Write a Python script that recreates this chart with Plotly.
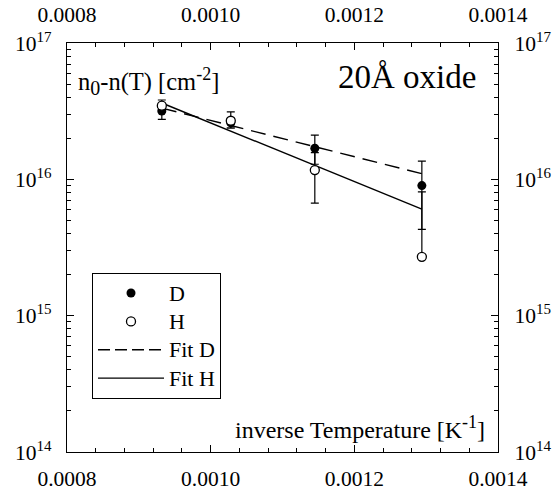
import plotly.graph_objects as go

# Data (x = inverse temperature, y = n0 - n(T))
x_vals = [0.000932, 0.001028, 0.001145, 0.001294]
d_vals = [3.17e16, 2.6e16, 1.69e16, 9.0e15]
d_err_plus = [0.35e16, 0.2e16, 0.42e16, 0.46e16]
d_err_minus = [0.42e16, 0.22e16, 0.4e16, 0.47e16]
h_vals = [3.47e16, 2.69e16, 1.17e16, 2.7e15]
h_err_plus = [0.35e16, 0.43e16, 0.4e16, 5.4e15]
h_err_minus = [0.3e16, 0.31e16, 0.5e16, 0.0]
fit_x = [0.000932, 0.001294]
fit_d = [3.33e16, 1.1e16]
fit_h = [3.63e16, 6.05e15]

x_ticks = [0.0008, 0.0010, 0.0012, 0.0014]
x_ticktext = ["0.0008", "0.0010", "0.0012", "0.0014"]
y_ticks = [1e14, 1e15, 1e16, 1e17]
y_ticktext = ["10<sup>14</sup>", "10<sup>15</sup>", "10<sup>16</sup>", "10<sup>17</sup>"]

FONT = "Liberation Serif"
x_minor = [0.0008 + i * 0.00004 for i in range(16)]
y_minor = [m * 10 ** e for e in range(14, 17) for m in range(2, 10)]


def big(s):
    return "<span style='font-size:22px'>" + s + "</span>"


fig = go.Figure()
fig.add_trace(go.Scatter(x=fit_x, y=fit_d, mode="lines", name="Fit D",
                         line=dict(color="black", width=1.4, dash="15px,8px"), showlegend=False))
fig.add_trace(go.Scatter(x=fit_x, y=fit_h, mode="lines", name="Fit H",
                         line=dict(color="black", width=1.4), showlegend=False))
fig.add_trace(go.Scatter(x=x_vals, y=d_vals, mode="markers", name=big("D"),
                         marker=dict(symbol="circle", size=9, color="black"),
                         error_y=dict(type="data", array=d_err_plus, arrayminus=d_err_minus,
                                      color="black", thickness=1.2, width=4)))
fig.add_trace(go.Scatter(x=x_vals, y=h_vals, mode="markers", name=big("H"),
                         marker=dict(symbol="circle", size=9, color="white",
                                     line=dict(color="black", width=1.3)),
                         error_y=dict(type="data", array=h_err_plus, arrayminus=h_err_minus,
                                      color="black", thickness=1.2, width=4)))
# legend-only line entries (order D, H, Fit D, Fit H)
fig.add_trace(go.Scatter(x=[None], y=[None], mode="lines", name=big("Fit D"),
                         line=dict(color="black", width=1.4, dash="12px,5px")))
fig.add_trace(go.Scatter(x=[None], y=[None], mode="lines", name=big("Fit H"),
                         line=dict(color="black", width=1.4)))
# invisible trace for secondary axes
fig.add_trace(go.Scatter(x=[0.001], y=[1e15], xaxis="x2", yaxis="y2", mode="markers",
                         marker=dict(opacity=0), showlegend=False, hoverinfo="skip"))

axis_common = dict(showline=True, linecolor="black", linewidth=1.2, ticks="inside",
                   ticklen=7, tickwidth=1.2, tickcolor="black", showgrid=False,
                   zeroline=False, tickfont=dict(family=FONT, size=21.5, color="black"),
                   automargin=False)
minor_x = dict(tickvals=x_minor, ticks="inside", ticklen=4, tickcolor="black")
minor_y = dict(tickvals=y_minor, ticks="inside", ticklen=4, tickcolor="black")

fig.update_layout(
    width=558, height=493,
    margin=dict(l=67, r=60, t=43, b=41),
    plot_bgcolor="white", paper_bgcolor="white",
    font=dict(family=FONT, color="black"),
    xaxis=dict(range=[0.0008, 0.0014], tickvals=x_ticks, ticktext=x_ticktext,
               minor=minor_x, ticklabelstandoff=7, **axis_common),
    xaxis2=dict(range=[0.0008, 0.0014], tickvals=x_ticks, ticktext=x_ticktext,
                overlaying="x", side="top", anchor="y", minor=minor_x,
                ticklabelstandoff=11, **axis_common),
    yaxis=dict(type="log", range=[14, 17], tickvals=y_ticks, ticktext=y_ticktext,
               minor=minor_y, ticklabelstandoff=10, **axis_common),
    yaxis2=dict(type="log", range=[14, 17], tickvals=y_ticks, ticktext=y_ticktext,
                overlaying="y", side="right", anchor="x", minor=minor_y,
                ticklabelstandoff=11, **axis_common),
    legend=dict(x=0.058, y=0.438, xanchor="left", yanchor="top",
                bordercolor="black", borderwidth=1, bgcolor="white",
                font=dict(family=FONT, size=19.5, color="black"),
                tracegroupgap=0, itemwidth=66),
    annotations=[
        dict(text="20Å oxide", x=0.788, y=0.916, xref="paper", yref="paper",
             xanchor="center", yanchor="middle", showarrow=False,
             font=dict(family=FONT, size=33, color="black")),
        dict(text="n<sub><span style='font-size:20px'>0</span></sub>-n(T) [cm<sup><span style='font-size:18px'>-2</span></sup>]",
             x=0.02, y=0.907, xref="paper", yref="paper", xanchor="left", yanchor="middle",
             showarrow=False, font=dict(family=FONT, size=24.5, color="black")),
        dict(text="inverse Temperature [K<sup><span style='font-size:18px'>-1</span></sup>]",
             x=0.975, y=0.059, xref="paper", yref="paper", xanchor="right", yanchor="middle",
             showarrow=False, font=dict(family=FONT, size=24, color="black")),
    ],
)

fig.write_html("out.html")
